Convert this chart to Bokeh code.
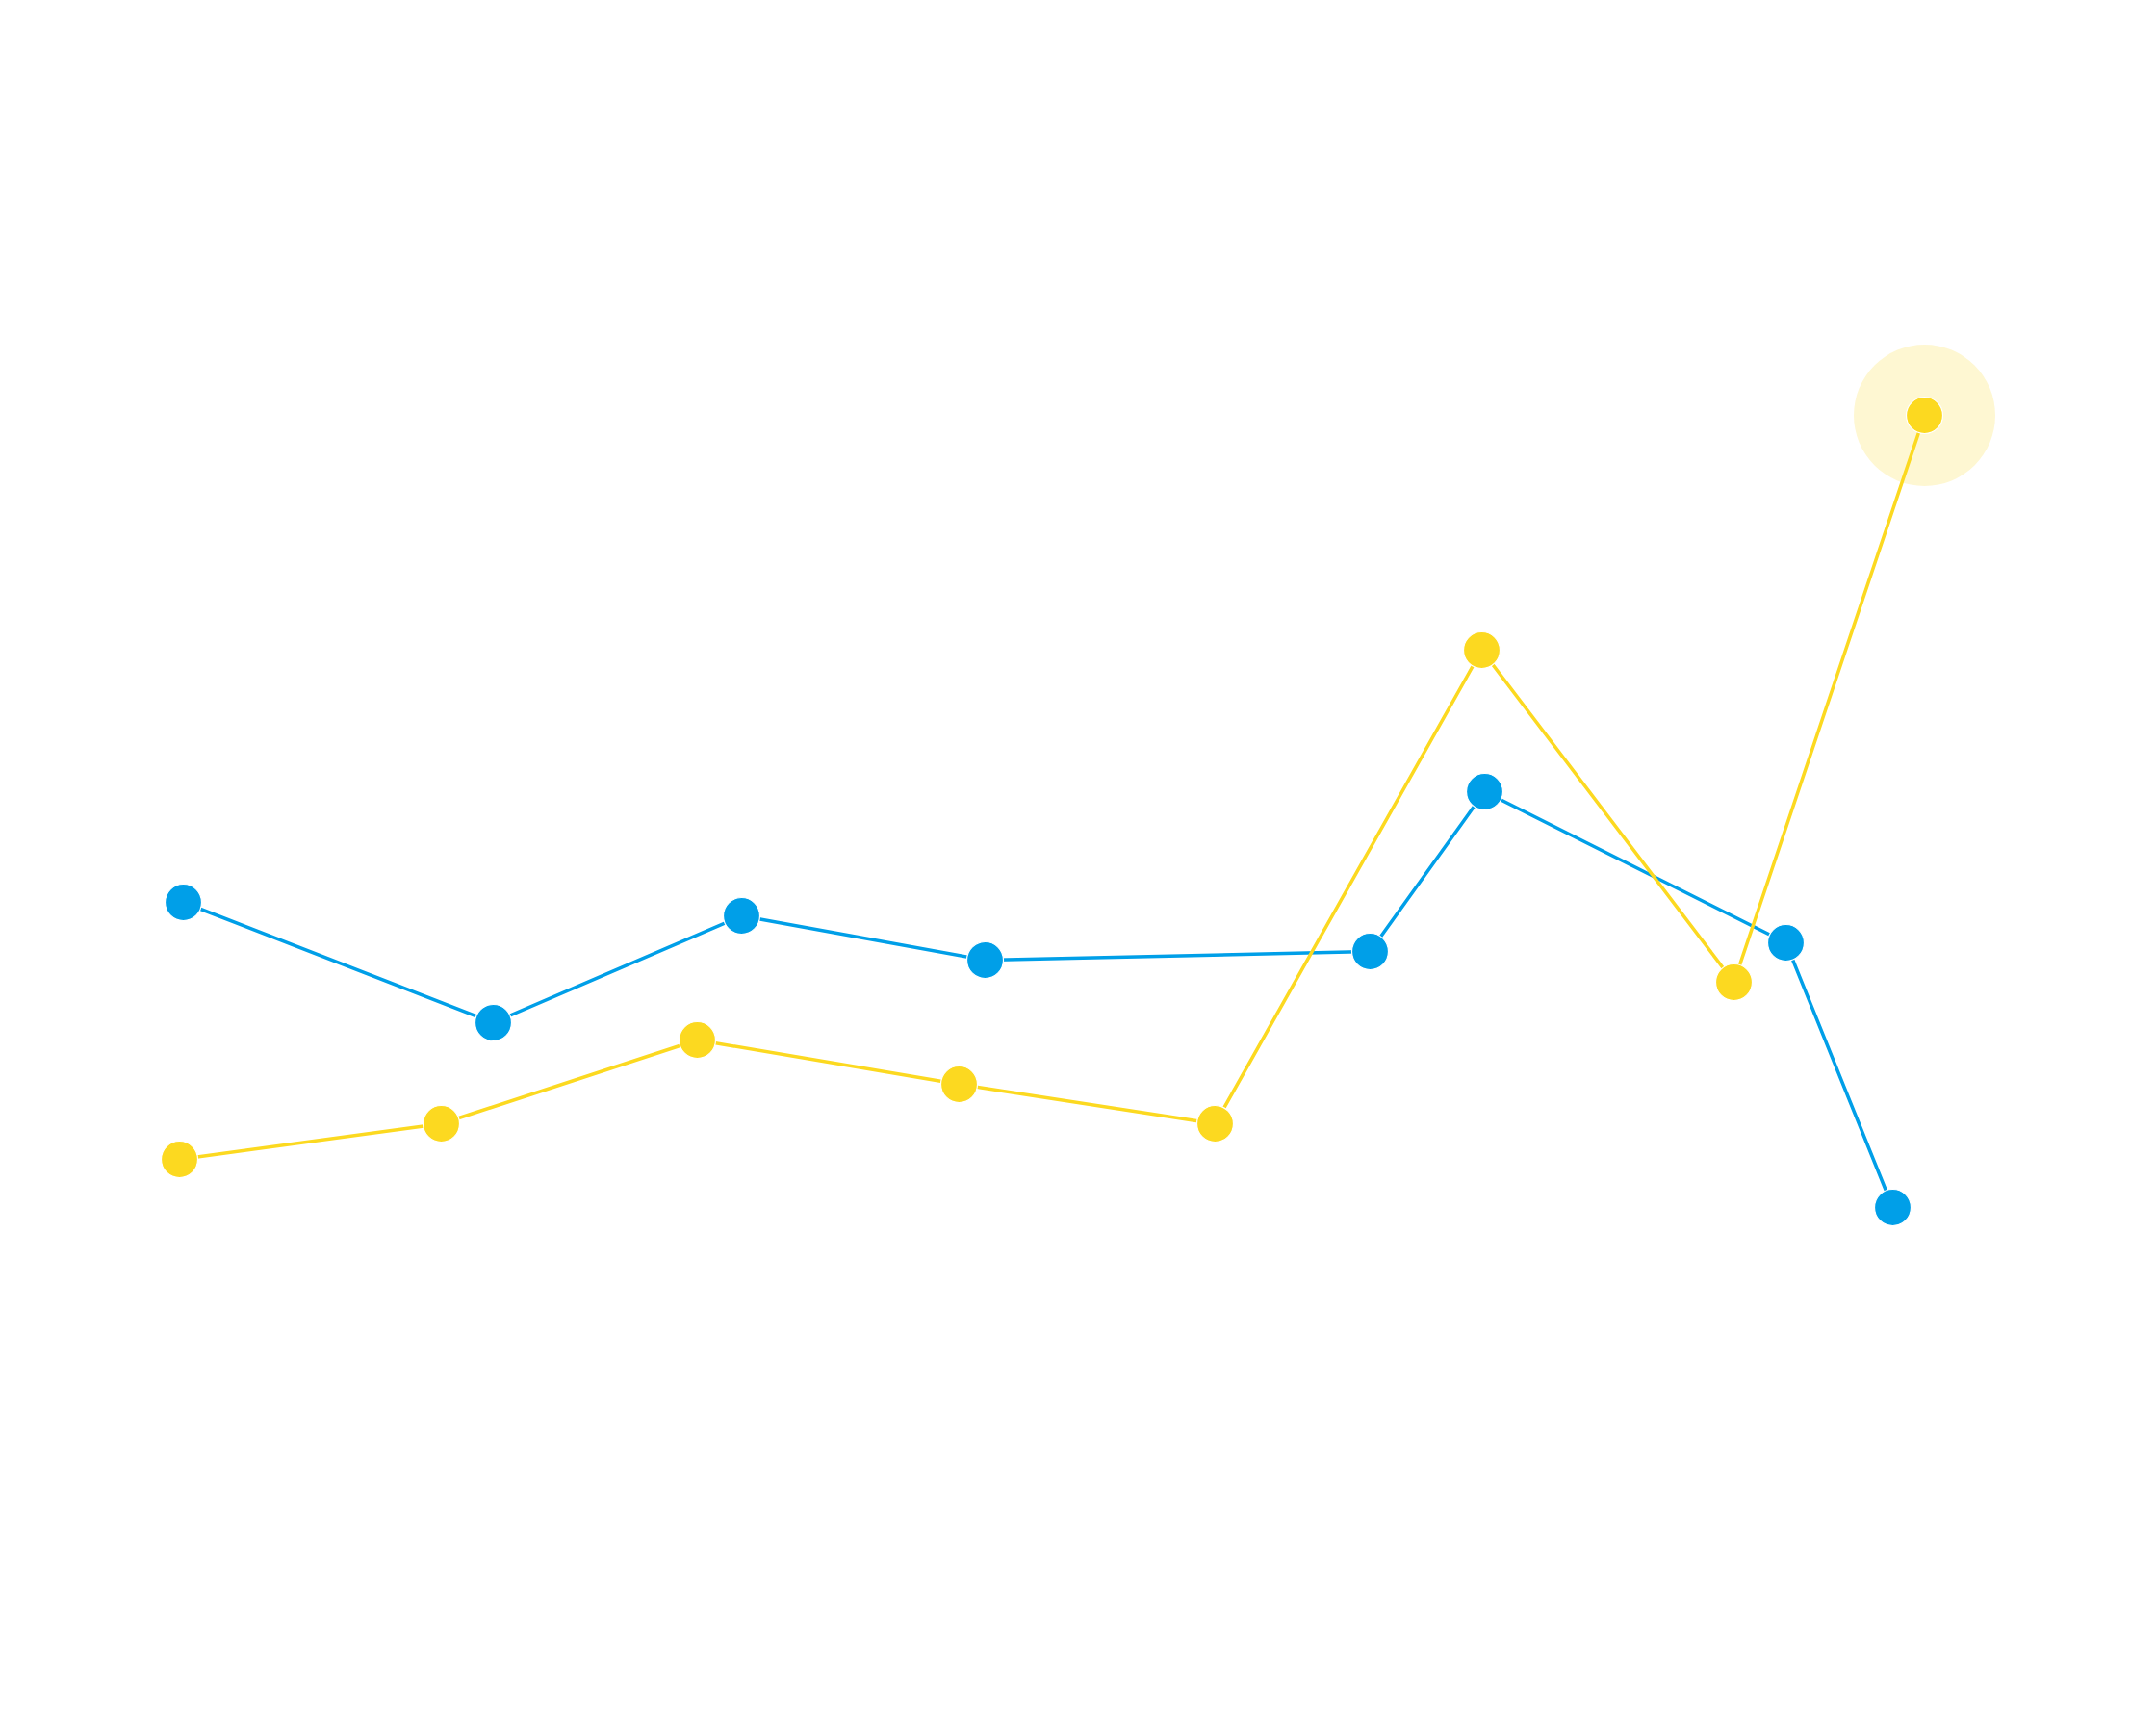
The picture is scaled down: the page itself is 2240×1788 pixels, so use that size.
from bokeh.plotting import figure
from bokeh.models import Range1d
from bokeh.embed import file_html
from bokeh.resources import INLINE

# Series A (blue)
blue_x = [9.5, 25.6, 38.5, 51.15, 71.15, 77.1, 92.75, 98.3]
blue_y = [41.75, 35.5, 41.05, 38.75, 39.2, 47.5, 39.65, 25.9]

# Series B (yellow)
yellow_x = [9.3, 22.9, 36.2, 49.8, 63.1, 76.95, 90.05, 99.95]
yellow_y = [28.4, 30.25, 34.6, 32.3, 30.25, 54.85, 37.6, 67.05]

# highlighted point (last of series B)
hl_x = [yellow_x[-1]]
hl_y = [yellow_y[-1]]

BLUE = "#009FE8"
YELLOW = "#FCD920"

W, H = 2224, 1772
p = figure(width=W, height=H, output_backend="svg", toolbar_location=None,
           x_range=Range1d(0, W / 20), y_range=Range1d(0, H / 20),
           min_border=0, min_border_left=0, min_border_right=0,
           min_border_top=0, min_border_bottom=0)
p.axis.visible = False
p.grid.visible = False
p.outline_line_color = None
p.background_fill_color = "white"
p.border_fill_color = "white"

p.line(blue_x, blue_y, line_color=BLUE, line_width=3.5)
p.scatter(blue_x, blue_y, size=38, fill_color=BLUE, line_color="white", line_width=1.2)

p.scatter(hl_x, hl_y, size=147, fill_color=YELLOW, fill_alpha=0.2, line_color=None)
p.line(yellow_x, yellow_y, line_color=YELLOW, line_width=3.5)
p.scatter(yellow_x, yellow_y, size=38, fill_color=YELLOW, line_color="white", line_width=1.2)

open("out.html", "w").write(file_html(p, INLINE))
